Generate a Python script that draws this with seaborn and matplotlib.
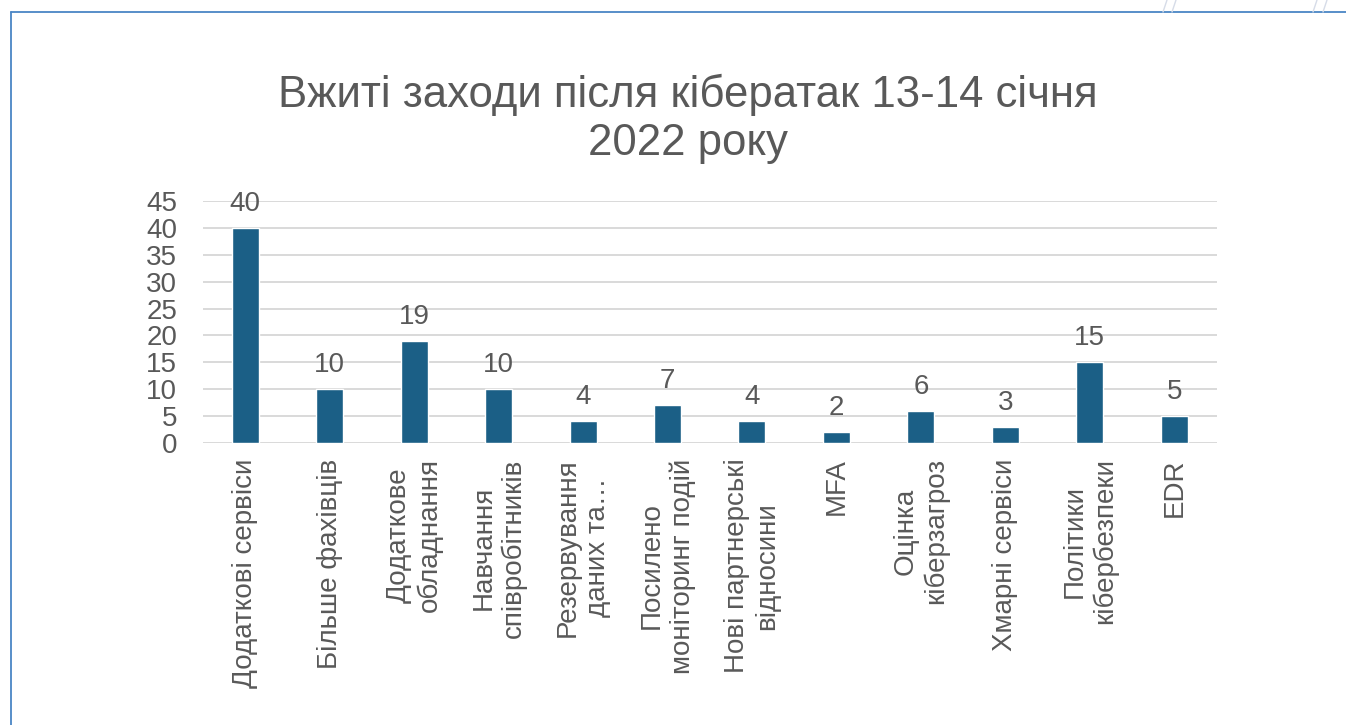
import matplotlib
matplotlib.use("Agg")
import matplotlib.pyplot as plt
from matplotlib.lines import Line2D
import pandas as pd
import seaborn as sns

title = "Вжиті заходи після кібератак 13-14 січня\n2022 року"
categories = [
    "Додаткові сервіси",
    "Більше фахівців",
    "Додаткове\nобладнання",
    "Навчання\nспівробітників",
    "Резервування\nданих та…",
    "Посилено\nмоніторинг подій",
    "Нові партнерські\nвідносини",
    "MFA",
    "Оцінка\nкіберзагроз",
    "Хмарні сервіси",
    "Політики\nкібербезпеки",
    "EDR",
]
values = [40, 10, 19, 10, 4, 7, 4, 2, 6, 3, 15, 5]
y_ticks = [0, 5, 10, 15, 20, 25, 30, 35, 40, 45]

BAR = "#1b5f86"
TEXT = "#595959"
GRID = "#d9d9d9"
FRAME = "#4a86c5"
FS = 20

sns.set_style("white")
plt.rcParams["font.family"] = ["Liberation Sans", "DejaVu Sans"]

df = pd.DataFrame({"category": categories, "value": values})

fig = plt.figure(figsize=(13.46, 7.25), dpi=100)
ax = fig.add_axes([0.1508, 0.389, 0.753, 0.3338])

sns.barplot(data=df, x="category", y="value", color=BAR, width=0.32,
            saturation=1, ax=ax, zorder=3)

ax.set_ylim(0, 45)
ax.set_xlim(-0.5, len(categories) - 0.5)
ax.set_yticks(y_ticks)
ax.set_yticklabels([str(t) for t in y_ticks], fontsize=FS, color=TEXT)
ax.yaxis.grid(True, color=GRID, linewidth=1.4, zorder=0)
ax.xaxis.grid(False)
ax.set_axisbelow(True)
for s in ax.spines.values():
    s.set_visible(False)
ax.tick_params(axis="both", length=0)
ax.tick_params(axis="y", pad=18.5)
ax.set_xlabel("")
ax.set_ylabel("")

ax.set_xticks(range(len(categories)))
ax.set_xticklabels(categories, rotation=90, fontsize=FS, color=TEXT,
                   ha="center", va="top", multialignment="center")
ax.tick_params(axis="x", pad=11)

# value labels above each bar
for i, v in enumerate(values):
    ax.annotate(str(v), xy=(i, v), xytext=(0, 8), textcoords="offset points",
                ha="center", va="bottom", fontsize=FS, color=TEXT)

fig.text(0.511, 0.836, title, ha="center", va="center", fontsize=31.5,
         color=TEXT, linespacing=1.2)

# slide frame and corner ornaments
W, H = 1346, 725
fig.add_artist(Line2D([11 / W, 1.0], [1 - 12 / H, 1 - 12 / H],
                      transform=fig.transFigure, color=FRAME, linewidth=1.3))
fig.add_artist(Line2D([11 / W, 11 / W], [0.0, 1 - 12 / H],
                      transform=fig.transFigure, color=FRAME, linewidth=1.3))
for x0 in (1163, 1172, 1313, 1323):
    fig.add_artist(Line2D([x0 / W, (x0 + 4) / W], [1 - 12 / H, 1.0],
                          transform=fig.transFigure, color="#d6dce8",
                          linewidth=1.0))

fig.savefig("out.png", dpi=100, facecolor="white")
